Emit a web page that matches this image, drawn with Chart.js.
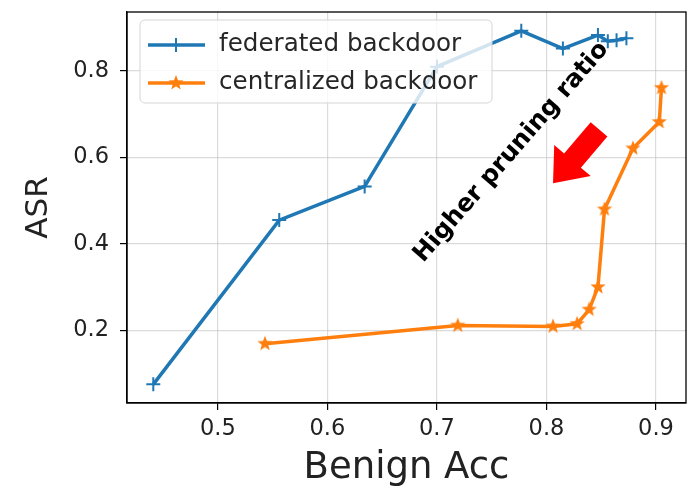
<!DOCTYPE html>
<html>
<head>
<meta charset="utf-8">
<script src="https://cdn.jsdelivr.net/npm/chart.js@4"></script>
<style>
  html, body { margin: 0; padding: 0; background: #fff; }
  #wrap { width: 692px; height: 491px; }
</style>
</head>
<body>
<div id="wrap"><canvas id="chart" width="692" height="491"></canvas></div>
<script>
// data
const fedAcc = [0.441, 0.556, 0.634, 0.700, 0.777, 0.815, 0.847, 0.856, 0.864, 0.873];
const fedAsr = [0.075, 0.455, 0.533, 0.810, 0.893, 0.852, 0.883, 0.869, 0.871, 0.876];
const cenAcc = [0.543, 0.719, 0.806, 0.828, 0.839, 0.847, 0.853, 0.879, 0.903, 0.905];
const cenAsr = [0.169, 0.211, 0.209, 0.215, 0.248, 0.300, 0.480, 0.621, 0.682, 0.761];
const seriesLabels = ['federated backdoor', 'centralized backdoor'];
const xTicks = [0.5, 0.6, 0.7, 0.8, 0.9];
const yTicks = [0.2, 0.4, 0.6, 0.8];

const BLUE = '#1f77b4';
const ORANGE = '#ff7f0e';
const FONT = "'DejaVu Sans', sans-serif";
const PLOT_RIGHT = 686; // right edge of the axes box

// matplotlib-like filled star marker
function makeStar(color, r) {
    const c = document.createElement('canvas');
    const s = Math.ceil(r * 2 + 2);
    c.width = s; c.height = s;
    const g = c.getContext('2d');
    g.translate(s / 2, s / 2);
    g.beginPath();
    for (let i = 0; i < 10; i++) {
        const rad = i % 2 === 0 ? r : r * 0.42;
        const a = -Math.PI / 2 + i * Math.PI / 5;
        g.lineTo(rad * Math.cos(a), rad * Math.sin(a));
    }
    g.closePath();
    g.fillStyle = color;
    g.fill();
    return c;
}
const starImg = makeStar(ORANGE, 8);

function toPoints(xs, ys) {
    return xs.map((x, i) => ({ x: x, y: ys[i] }));
}

// chart.js keeps some room for the last tick label, take it back
const widenArea = {
    id: 'widenArea',
    afterLayout(chart) {
        const a = chart.chartArea;
        const xs = chart.scales.x;
        if (!xs || a.right >= PLOT_RIGHT) return;
        a.right = PLOT_RIGHT;
        a.width = a.right - a.left;
        xs.right = PLOT_RIGHT;
        xs.width = xs.right - xs.left;
        xs.configure();
    }
};

// legend box drawn inside the plot, like matplotlib's upper left
const innerLegend = {
    id: 'innerLegend',
    afterDatasetsDraw(chart) {
        const ctx = chart.ctx;
        const a = chart.chartArea;
        const x0 = a.left + 13, y0 = a.top + 8, w = 352, h = 83;
        ctx.save();
        ctx.beginPath();
        ctx.roundRect(x0, y0, w, h, 5);
        ctx.fillStyle = 'rgba(255,255,255,0.8)';
        ctx.fill();
        ctx.strokeStyle = '#d5d5d5';
        ctx.lineWidth = 1;
        ctx.stroke();
        const rows = [y0 + 25, y0 + 63];
        chart.data.datasets.forEach((ds, i) => {
            const y = rows[i];
            ctx.strokeStyle = ds.borderColor;
            ctx.lineWidth = 3.5;
            ctx.beginPath();
            ctx.moveTo(x0 + 8, y);
            ctx.lineTo(x0 + 65, y);
            ctx.stroke();
            const mx = x0 + 36;
            if (i === 0) {
                ctx.lineWidth = 2;
                ctx.beginPath();
                ctx.moveTo(mx - 7, y); ctx.lineTo(mx + 7, y);
                ctx.moveTo(mx, y - 7); ctx.lineTo(mx, y + 7);
                ctx.stroke();
            } else {
                ctx.drawImage(starImg, mx - starImg.width / 2, y - starImg.height / 2);
            }
            ctx.fillStyle = '#262626';
            ctx.font = '24.6px ' + FONT;
            ctx.textBaseline = 'middle';
            ctx.textAlign = 'left';
            ctx.fillText(ds.label, x0 + 79, y);
        });
        ctx.restore();
    }
};

// red arrow and rotated note, placed in data units
const noteArrow = {
    id: 'noteArrow',
    afterDatasetsDraw(chart) {
        const ctx = chart.ctx;
        const xs = chart.scales.x, ys = chart.scales.y;
        const tip = { x: xs.getPixelForValue(0.806), y: ys.getPixelForValue(0.540) };
        const tail = { x: xs.getPixelForValue(0.848), y: ys.getPixelForValue(0.665) };
        const dx = tip.x - tail.x, dy = tip.y - tail.y;
        const len = Math.hypot(dx, dy);
        const ux = dx / len, uy = dy / len;
        const nx = -uy, ny = ux;
        const headLen = 30, headW = 24, shaftW = 11;
        const bx = tip.x - ux * headLen, by = tip.y - uy * headLen;
        ctx.save();
        ctx.fillStyle = '#ff0000';
        ctx.beginPath();
        ctx.moveTo(tail.x + nx * shaftW, tail.y + ny * shaftW);
        ctx.lineTo(bx + nx * shaftW, by + ny * shaftW);
        ctx.lineTo(bx + nx * headW, by + ny * headW);
        ctx.lineTo(tip.x, tip.y);
        ctx.lineTo(bx - nx * headW, by - ny * headW);
        ctx.lineTo(bx - nx * shaftW, by - ny * shaftW);
        ctx.lineTo(tail.x - nx * shaftW, tail.y - ny * shaftW);
        ctx.closePath();
        ctx.fill();

        const tx = xs.getPixelForValue(0.768), ty = ys.getPixelForValue(0.612);
        ctx.translate(tx, ty);
        ctx.rotate(-49 * Math.PI / 180);
        ctx.fillStyle = '#000';
        ctx.font = 'bold 24.5px ' + FONT;
        ctx.textAlign = 'center';
        ctx.textBaseline = 'middle';
        ctx.fillText('Higher pruning ratio', 0, 0);
        ctx.restore();
    }
};

// black frame on all four sides
const frame = {
    id: 'frame',
    afterDraw(chart) {
        const a = chart.chartArea;
        const ctx = chart.ctx;
        ctx.save();
        ctx.strokeStyle = '#000';
        ctx.lineWidth = 1.3;
        ctx.strokeRect(a.left, a.top, a.right - a.left, a.bottom - a.top);
        ctx.restore();
    }
};

new Chart(document.getElementById('chart'), {
    type: 'scatter',
    data: {
        datasets: [
            {
                label: seriesLabels[0],
                data: toPoints(fedAcc, fedAsr),
                showLine: true,
                borderColor: BLUE,
                backgroundColor: BLUE,
                borderWidth: 3.5,
                tension: 0,
                pointStyle: 'cross',
                pointRadius: 7,
                pointBorderWidth: 2,
                pointBorderColor: BLUE
            },
            {
                label: seriesLabels[1],
                data: toPoints(cenAcc, cenAsr),
                showLine: true,
                borderColor: ORANGE,
                backgroundColor: ORANGE,
                borderWidth: 3.5,
                tension: 0,
                pointStyle: starImg,
                pointRadius: 8
            }
        ]
    },
    options: {
        responsive: false,
        animation: false,
        layout: { padding: { top: 12, right: 6, left: 0, bottom: 0 } },
        plugins: {
            legend: { display: false },
            tooltip: { enabled: false }
        },
        scales: {
            x: {
                type: 'linear',
                min: 0.417,
                max: 0.9274,
                afterFit: s => { s.height = 88; s.paddingLeft = 0; s.paddingRight = 0; },
                afterBuildTicks: s => { s.ticks = xTicks.map(v => ({ value: v })); },
                grid: { color: 'rgba(176,176,176,0.45)', lineWidth: 1.2, tickLength: 7, tickColor: '#000', tickWidth: 1.2 },
                border: { color: '#000', width: 1.3 },
                ticks: {
                    color: '#222',
                    font: { family: FONT, size: 22.5 },
                    padding: 6,
                    maxRotation: 0,
                    callback: v => v.toFixed(1)
                },
                title: {
                    display: true,
                    text: 'Benign Acc',
                    color: '#222',
                    font: { family: FONT, size: 37 },
                    padding: { top: 0, bottom: 0 }
                }
            },
            y: {
                type: 'linear',
                min: 0.0318,
                max: 0.9365,
                afterFit: s => { s.width = 127; s.paddingTop = 0; s.paddingBottom = 0; },
                afterBuildTicks: s => { s.ticks = yTicks.map(v => ({ value: v })); },
                grid: { color: 'rgba(176,176,176,0.45)', lineWidth: 1.2, tickLength: 7, tickColor: '#000', tickWidth: 1.2 },
                border: { color: '#000', width: 1.3 },
                ticks: {
                    color: '#222',
                    font: { family: FONT, size: 22.5 },
                    padding: 11,
                    callback: v => v.toFixed(1)
                },
                title: {
                    display: true,
                    text: 'ASR',
                    color: '#222',
                    font: { family: FONT, size: 31 },
                    padding: { top: 20, bottom: 0 }
                }
            }
        }
    },
    plugins: [widenArea, innerLegend, noteArrow, frame]
});
</script>
</body>
</html>
